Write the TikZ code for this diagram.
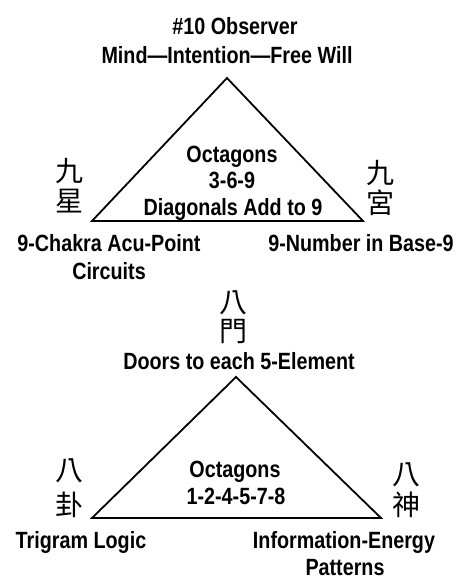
\documentclass[tikz,border=0pt]{standalone}
\usepackage{fontspec}
\setmainfont{Liberation Sans}[FakeStretch=0.84]
\newfontfamily\cjk{Noto Sans CJK TC}
\usepackage{tikz}
\usetikzlibrary{positioning}
\tikzstyle{caption} = [anchor=base, inner sep=0pt, font=\fontsize{23.5}{27}\selectfont\bfseries]
\tikzstyle{hanzi} = [anchor=center, inner sep=0pt, font=\fontsize{28}{30}\selectfont\cjk]
\tikzstyle{tri} = [line width=1.8pt, line join=miter]

\begin{document}
\begin{tikzpicture}[x=1pt, y=-1pt]
\useasboundingbox (0,0) rectangle (465,582);

% top triangle
\coordinate (apex1) at (227,78);
\coordinate (left1) at (92,221);
\coordinate (right1) at (363,221);
\draw [tri] (apex1) -- (left1) -- (right1) -- cycle;

\node (obs) [caption] at (235,34) {\#10 Observer};
\node (mind) [caption] at (227,63) {Mind---Intention---Free Will};
\node (oct1) [caption] at (232,162) {Octagons};
\node (num1) [caption] at (232,188) {3-6-9};
\node (diag) [caption] at (233,215) {Diagonals Add to 9};
\node (chakra) [caption] at (109,251) {9-Chakra Acu-Point};
\node (circ) [caption] at (109,279) {Circuits};
\node (base9) [caption] at (361,251) {9-Number in Base-9};
\node (jiu_l) [hanzi] at (70,171) {九};
\node (xing) [hanzi] at (70,201) {星};
\node (jiu_r) [hanzi] at (380,173) {九};
\node (gong) [hanzi] at (380,203) {宮};

% bottom triangle
\coordinate (apex2) at (236,377);
\coordinate (left2) at (92,518);
\coordinate (right2) at (381,518);
\draw [tri] (apex2) -- (left2) -- (right2) -- cycle;

\node (ba_t) [hanzi] at (233,303) {八};
\node (men) [hanzi] at (233,332) {門};
\node (doors) [caption] at (239,369) {Doors to each 5-Element};
\node (oct2) [caption] at (235,477) {Octagons};
\node (num2) [caption] at (236,504) {1-2-4-5-7-8};
\node (ba_l) [hanzi] at (69,471) {八};
\node (gua) [hanzi] at (69,505) {卦};
\node (ba_r) [hanzi] at (406,475) {八};
\node (shen) [hanzi] at (406,505) {神};
\node (trig) [caption] at (81,548) {Trigram Logic};
\node (info) [caption] at (344,548) {Information-Energy};
\node (patt) [caption] at (345,575) {Patterns};
\end{tikzpicture}
\end{document}
